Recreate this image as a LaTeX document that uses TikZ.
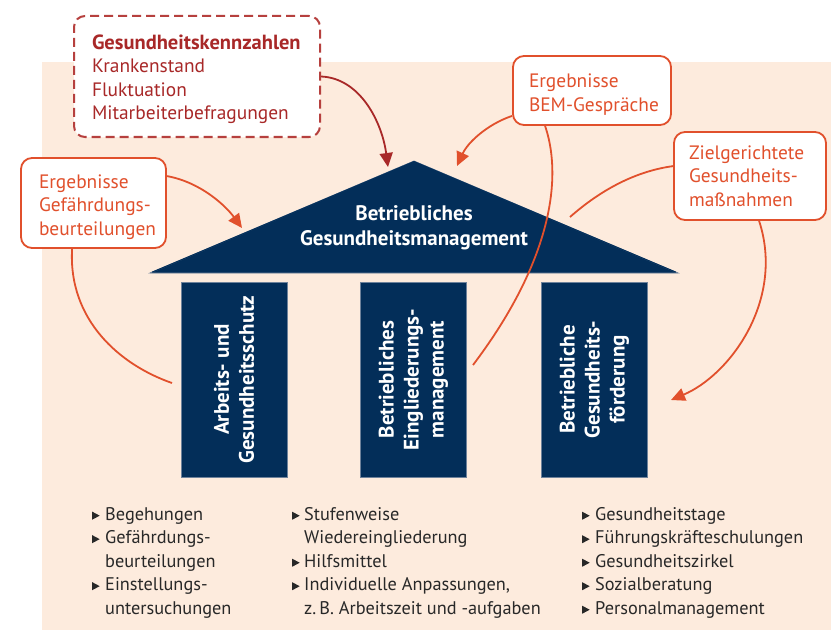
\documentclass[tikz,border=0pt]{standalone}
\usepackage{fontspec}
\setmainfont{PT Sans}
\usetikzlibrary{arrows.meta,calc}
\definecolor{peach}{RGB}{253,235,221}
\definecolor{navy}{RGB}{3,46,89}
\definecolor{navyline}{RGB}{110,130,155}
\definecolor{orng}{RGB}{225,80,44}
\definecolor{dred}{RGB}{168,40,40}
\definecolor{dashred}{RGB}{182,64,62}
\definecolor{txt}{RGB}{40,40,40}
\newcommand\mk{\tikz[baseline=0pt,x=1pt,y=1pt]\fill[txt] (0,0.5)--(0,8.5)--(7.5,4.5)--cycle;}
\begin{document}
\begin{tikzpicture}[x=1pt,y=-1pt,
  bodyfont/.style={font=\fontsize{18.3}{23.5}\selectfont},
  boxfont/.style={font=\fontsize{19.4}{23.3}\selectfont},
  boldfont/.style={font=\bfseries\fontsize{21}{25}\selectfont},
  obox/.style={boxfont, draw=orng, line width=1.8pt, fill=white, rounded corners=11pt,
     align=left, text=orng, inner ysep=0pt},
  pillar/.style={boldfont, fill=navy, draw=navyline, line width=0.8pt, text=white,
     align=center, inner sep=0pt, minimum width=195pt, minimum height=106pt, rotate=90},
  list/.style={bodyfont, text=txt, align=left, inner sep=0pt, anchor=north west},
  conn/.style={draw=orng, line width=1.8pt},
  arr/.style={conn, -{Triangle[length=14pt,width=13pt]}},
]
\fill[white] (0,0) rectangle (831,634);
\useasboundingbox (0,0) rectangle (831,634);
\fill[peach] (42,62) rectangle (831,630);

% roof
\filldraw[fill=navy, draw=navyline, line width=0.8pt] (150,273) -- (414,161) -- (678,273) -- cycle;
\draw[navy, line width=1pt] (152,272.2) -- (414,161.5) -- (676,272.2);
\node[boldfont, text=white, align=center, inner sep=0pt] (roof) at (414,228) {Betriebliches\\Gesundheitsmanagement};

% pillars
\node[pillar] (p1) at (234,379.5) {Arbeits- und\\Gesundheitsschutz};
\node[pillar] (p2) at (413.5,379.5) {Betriebliches\\Eingliederungs-\\management};
\node[pillar] (p3) at (594.5,379.5) {Betriebliche\\Gesundheits-\\förderung};

% boxes
\node[boxfont, draw=dashred, line width=2pt, dash pattern=on 9pt off 5pt, fill=white,
      rounded corners=11pt, align=left, text=dred, inner xsep=18pt, inner ysep=0pt,
      text width=210pt, minimum height=121pt] (kz) at (197,76.5)
  {\rule{0pt}{20pt}\mbox{\bfseries\fontsize{20.5}{23.5}\selectfont Gesundheitskennzahlen}\\\mbox{Krankenstand}\\\mbox{Fluktuation}\\\mbox{Mitarbeiterbefragungen}};
\node[obox, inner xsep=16pt, text width=126pt, minimum height=69pt] (bem) at (592,90.5)
  {\rule{0pt}{22pt}\mbox{Ergebnisse}\\\mbox{BEM-Gespräche}};
\node[obox, inner xsep=15pt, text width=122pt, minimum height=88pt] (zg) at (750,176)
  {\mbox{Zielgerichtete}\\\mbox{Gesundheits-}\\\mbox{maßnahmen}};
\node[obox, inner xsep=18pt, text width=109pt, minimum height=90pt] (lb) at (93.5,203)
  {\rule{0pt}{22pt}\mbox{Ergebnisse}\\\mbox{Gefährdungs-}\\\mbox{beurteilungen}};

% free ends
\coordinate (tipA) at (388,167);
\coordinate (tipB) at (457,166);
\coordinate (tipC) at (242,228);
\coordinate (endD) at (172,383);
\coordinate (endE) at (473,365);
\coordinate (endF) at (570,217);
\coordinate (tipG) at (671,400);

% connectors
\draw[arr, draw=dred] (kz.east) .. controls (360,78) and (382,122) .. (tipA);
\draw[arr] ($(bem.south west)+(0,-10)$) .. controls (488,124) and (468,142) .. (tipB);
\draw[arr] ($(lb.north east)+(0,19)$) .. controls (200,182) and (225,205) .. (tipC);
\draw[conn] ($(lb.south west)+(52,0)$) .. controls (68,320) and (120,365) .. (endD);
\draw[conn] ($(bem.south west)+(33,0)$) .. controls (565,185) and (545,270) .. (endE);
\draw[conn] ($(zg.north west)+(0,35)$) .. controls (630,172) and (595,195) .. (endF);
\draw[arr] ($(zg.south west)+(86,0)$) .. controls (785,300) and (730,375) .. (tipG);

% lists
\node[list] (l1) at (92,507) {\makebox[13pt][l]{\mk}Begehungen\\
  \makebox[13pt][l]{\mk}Gefährdungs-\\
  \hspace*{13pt}beurteilungen\\
  \makebox[13pt][l]{\mk}Einstellungs-\\
  \hspace*{13pt}untersuchungen};
\node[list] (l2) at (292,507) {\makebox[12pt][l]{\mk}Stufenweise\\
  \hspace*{12pt}Wiedereingliederung\\
  \makebox[12pt][l]{\mk}Hilfsmittel\\
  \makebox[12pt][l]{\mk}Individuelle Anpassungen,\\
  \hspace*{12pt}z.\,B. Arbeitszeit und -aufgaben};
\node[list] (l3) at (582,507) {\makebox[13pt][l]{\mk}Gesundheitstage\\
  \makebox[13pt][l]{\mk}Führungskräfteschulungen\\
  \makebox[13pt][l]{\mk}Gesundheitszirkel\\
  \makebox[13pt][l]{\mk}Sozialberatung\\
  \makebox[13pt][l]{\mk}Personalmanagement};
\end{tikzpicture}
\end{document}
